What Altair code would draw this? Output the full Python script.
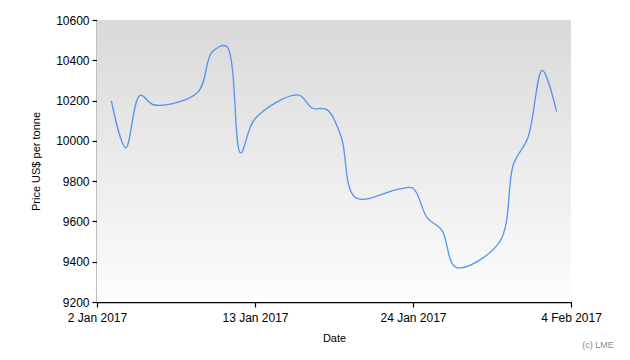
import altair as alt
import pandas as pd

dates = ["2017-01-03", "2017-01-04", "2017-01-05", "2017-01-06",
         "2017-01-09", "2017-01-10", "2017-01-11", "2017-01-12", "2017-01-13",
         "2017-01-16", "2017-01-17", "2017-01-18", "2017-01-19", "2017-01-20",
         "2017-01-23", "2017-01-24", "2017-01-25", "2017-01-26", "2017-01-27",
         "2017-01-30", "2017-01-31", "2017-02-01", "2017-02-02", "2017-02-03"]
prices = [10198, 9965, 10226, 10178,
          10240, 10440, 10470, 9940, 10110,
          10228, 10162, 10155, 10020, 9718,
          9760, 9765, 9616, 9558, 9372,
          9495, 9885, 10015, 10350, 10145]

y_ticks = [9200, 9400, 9600, 9800, 10000, 10200, 10400, 10600]
x_ticks = [(2017, 1, 2), (2017, 1, 13), (2017, 1, 24), (2017, 2, 4)]

df = pd.DataFrame({"date": dates, "price": prices})

W, H = 474, 282
FONT = "Liberation Sans"

def dt(t):
    return alt.DateTime(year=t[0], month=t[1], date=t[2], utc=True)

bg = alt.Chart(pd.DataFrame({"a": [0]})).mark_rect(
    color=alt.LinearGradient(
        gradient="linear", x1=0, x2=0, y1=0, y2=1,
        stops=[alt.GradientStop(color="#d9d9d9", offset=0),
               alt.GradientStop(color="#fdfdfd", offset=1)]
    )
).encode(x=alt.value(0), x2=alt.value(W), y=alt.value(0), y2=alt.value(H))

line = alt.Chart(df).mark_line(
    interpolate="catmull-rom", color="#5593ee", strokeWidth=1.3
).encode(
    x=alt.X("date:T",
            scale=alt.Scale(type="utc", domain=[dt(x_ticks[0]), dt(x_ticks[-1])]),
            axis=alt.Axis(title="Date", values=[dt(t) for t in x_ticks],
                          labelExpr="utcFormat(datum.value, '%-d %b %Y')",
                          grid=False, tickSize=5, labelPadding=5,
                          titlePadding=9, labelFlush=False, labelOverlap=False)),
    y=alt.Y("price:Q", scale=alt.Scale(domain=[9200, 10600], nice=False, zero=False),
            axis=alt.Axis(title="Price US$ per tonne", values=y_ticks, format="d",
                          grid=False, tickSize=5, labelPadding=3, titlePadding=14))
)

credit = alt.Chart(pd.DataFrame({"t": ["(c) LME"]})).mark_text(
    font=FONT, fontSize=9, color="#8a8a8a", align="center", baseline="middle"
).encode(text="t:N", x=alt.value(501), y=alt.value(325))

chart = alt.layer(bg, line, credit).properties(
    width=W, height=H,
    autosize=alt.AutoSizeParams(type="none"),
    padding={"left": 89, "top": 12, "right": 50, "bottom": 50}
).configure_view(stroke=None).configure_axis(
    domainColor="#000000", tickColor="#000000", domainWidth=1.5, tickWidth=1.2,
    labelFont=FONT, labelFontSize=12, labelColor="#000000",
    titleFont=FONT, titleFontSize=11, titleFontWeight="normal", titleColor="#000000"
)

chart.save("out.html", embed_options={"renderer": "svg", "actions": False})
